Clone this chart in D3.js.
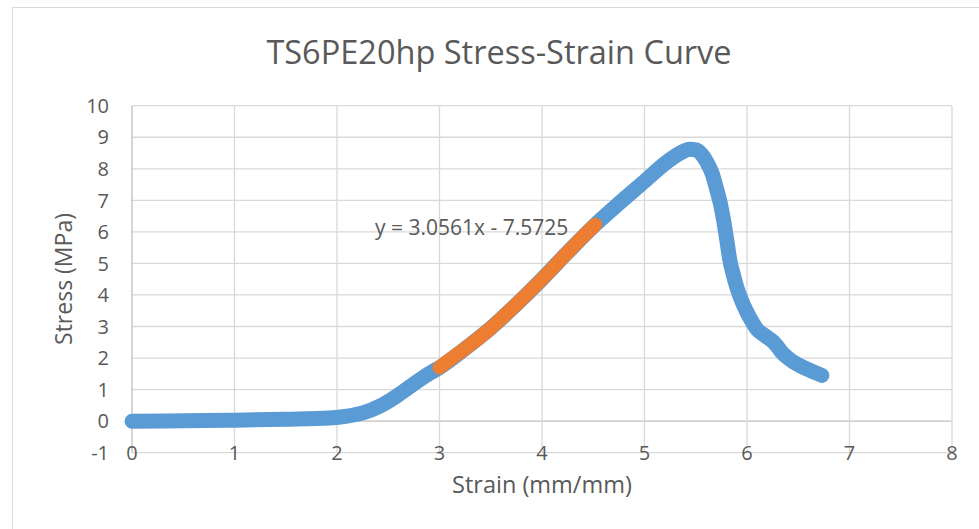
<!DOCTYPE html>
<html><head><meta charset="utf-8">
<script src="https://cdn.jsdelivr.net/npm/d3@7"></script>
<style>body{margin:0;background:#fff;}svg{display:block;font-family:"Open Sans",sans-serif;}</style>
</head><body><svg id="c" width="979" height="529"></svg>
<script>
const title = "TS6PE20hp Stress-Strain Curve";
const xLabel = "Strain (mm/mm)";
const yLabel = "Stress (MPa)";
const trendLabel = "y = 3.0561x - 7.5725";
const xTicks = [0,1,2,3,4,5,6,7,8];
const yTicks = [-1,0,1,2,3,4,5,6,7,8,9,10];
const strainAll = [0,0.5,1,1.5,1.93,2.1,2.26,2.42,2.58,2.74,2.91,3.0,3.25,3.5,3.75,4.0,4.25,4.52,4.75,5.0,5.22,5.35,5.44,5.5,5.56,5.61,5.66,5.70,5.74,5.77,5.8,5.83,5.87,5.9,5.95,6.0,6.05,6.1,6.18,6.26,6.3,6.34,6.42,6.52,6.62,6.73];
const stressAll = [0,0.01,0.03,0.06,0.1,0.16,0.27,0.48,0.79,1.16,1.53,1.7,2.3,2.95,3.7,4.5,5.35,6.23,6.9,7.6,8.22,8.5,8.62,8.6,8.45,8.2,7.85,7.4,6.9,6.4,5.8,5.15,4.6,4.25,3.8,3.45,3.15,2.9,2.7,2.5,2.35,2.18,1.95,1.75,1.6,1.45];
const strainFit = [3.0,3.1,3.25,3.5,3.75,4.0,4.25,4.4,4.52];
const stressFit = [1.7,1.95,2.3,2.95,3.7,4.5,5.35,5.85,6.23];

const svg = d3.select("#c");
const x = d3.scaleLinear().domain([0,8]).range([132,952]);
const y = d3.scaleLinear().domain([-1,10]).range([452.7,105.7]);
const txt = "#595959";

svg.append("rect").attr("x",12.5).attr("y",7.5).attr("width",1000).attr("height",600)
  .attr("fill","#fff").attr("stroke","#d9d9d9");

// gridlines
const g = svg.append("g");
g.selectAll(".hg").data(yTicks).join("line")
  .attr("x1",x(0)).attr("x2",x(8)).attr("y1",d=>y(d)).attr("y2",d=>y(d))
  .attr("stroke",d=>d===0?"#bfbfbf":"#d9d9d9").attr("stroke-width",1.3);
g.selectAll(".vg").data(xTicks).join("line")
  .attr("x1",d=>x(d)).attr("x2",d=>x(d)).attr("y1",y(-1)).attr("y2",y(10))
  .attr("stroke",d=>d===0?"#bfbfbf":"#d9d9d9").attr("stroke-width",1.3);

// tick labels
svg.append("g").selectAll("text").data(yTicks).join("text")
  .attr("x",109).attr("y",d=>y(d)).attr("dy","0.36em").attr("text-anchor","end")
  .attr("fill",txt).attr("font-size",20).text(d=>d);
svg.append("g").selectAll("text").data(xTicks).join("text")
  .attr("x",d=>x(d)).attr("y",y(-1)).attr("dy","0.36em").attr("text-anchor","middle")
  .attr("fill",txt).attr("font-size",20).text(d=>d);

// series
const lineC = d3.line().x(d=>x(d[0])).y(d=>y(d[1])).curve(d3.curveMonotoneX);
svg.append("path").datum(strainAll.map((v,i)=>[v,stressAll[i]]))
  .attr("d",lineC).attr("fill","none").attr("stroke","#5b9bd5").attr("stroke-width",15)
  .attr("stroke-linecap","round").attr("stroke-linejoin","round");
svg.append("path").datum(strainFit.map((v,i)=>[v,stressFit[i]]))
  .attr("d",lineC).attr("fill","none").attr("stroke","#ed7d31").attr("stroke-width",14)
  .attr("stroke-linecap","round").attr("stroke-linejoin","round");

// labels
svg.append("text").attr("x",499).attr("y",52).attr("dy","0.36em").attr("text-anchor","middle")
  .attr("fill",txt).attr("font-size",32.5).text(title);
svg.append("text").attr("x",542).attr("y",485).attr("dy","0.36em").attr("text-anchor","middle")
  .attr("fill",txt).attr("font-size",23.5).text(xLabel);
svg.append("text").attr("transform","translate(64,279) rotate(-90)").attr("dy","0.36em")
  .attr("text-anchor","middle").attr("fill",txt).attr("font-size",23).text(yLabel);
svg.append("text").attr("x",375).attr("y",227).attr("dy","0.36em")
  .attr("fill",txt).attr("font-size",21).text(trendLabel);
</script></body></html>
